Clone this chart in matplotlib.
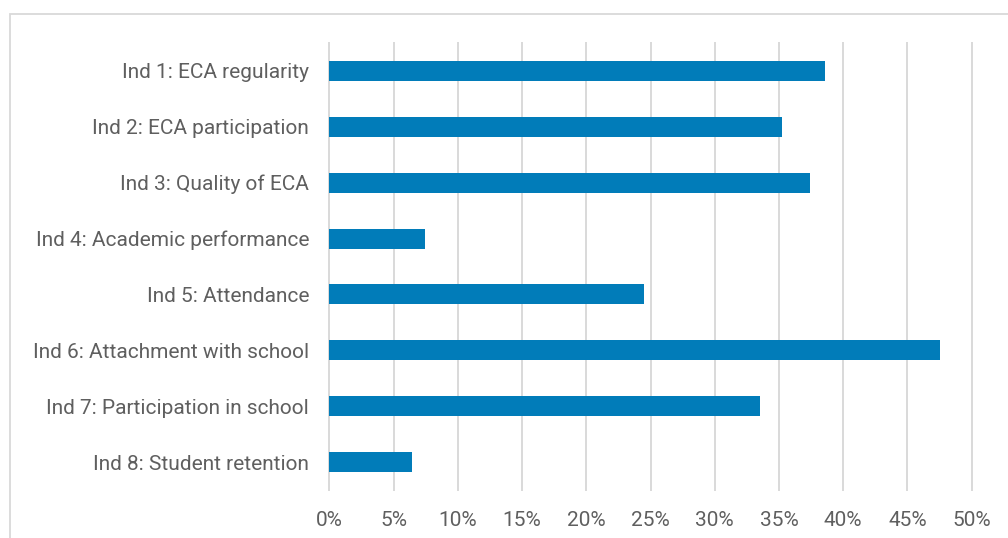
import matplotlib.pyplot as plt
from matplotlib.patches import Rectangle
from matplotlib.ticker import FuncFormatter

categories = ['Ind 1: ECA regularity', 'Ind 2: ECA participation', 'Ind 3: Quality of ECA',
              'Ind 4: Academic performance', 'Ind 5: Attendance', 'Ind 6: Attachment with school',
              'Ind 7: Participation in school', 'Ind 8: Student retention']
values = [38.6, 35.2, 37.4, 7.45, 24.5, 47.5, 33.5, 6.45]
xticks = [0, 5, 10, 15, 20, 25, 30, 35, 40, 45, 50]

plt.rcParams['font.family'] = ['Roboto', 'DejaVu Sans']
textcol = '#5f5f5f'
gridcol = '#d9d9d9'

fig = plt.figure(figsize=(10.08, 5.38), dpi=100)
# outer chart border (cropped on right/bottom)
fig.patches.append(Rectangle((10/1008, -0.1), 1.2, (538-14)/538 + 0.1, transform=fig.transFigure,
                             fill=False, edgecolor=gridcol, linewidth=1.3))

ax = fig.add_axes([329.3/1008, 48/538, 642.4/1008, 447/538])
y = range(len(categories))
ax.barh(y, values, height=0.358, color='#017cb9', zorder=3)
ax.set_ylim(len(categories) - 0.5, -0.5)
ax.set_xlim(0, 50)
ax.set_yticks(list(y))
ax.set_yticklabels(categories)
ax.set_xticks(xticks)
ax.xaxis.set_major_formatter(FuncFormatter(lambda v, p: '%d%%' % v))
ax.grid(axis='x', color=gridcol, linewidth=1.4, zorder=0)
ax.grid(axis='y', visible=False)
for s in ax.spines.values():
    s.set_visible(False)
ax.tick_params(axis='y', length=0, pad=14.5, labelsize=15, labelcolor=textcol)
ax.tick_params(axis='x', length=0, pad=15, labelsize=15, labelcolor=textcol)
for gl in ax.get_xgridlines():
    gl.set_clip_on(False)

fig.savefig('out.png', dpi=100)
